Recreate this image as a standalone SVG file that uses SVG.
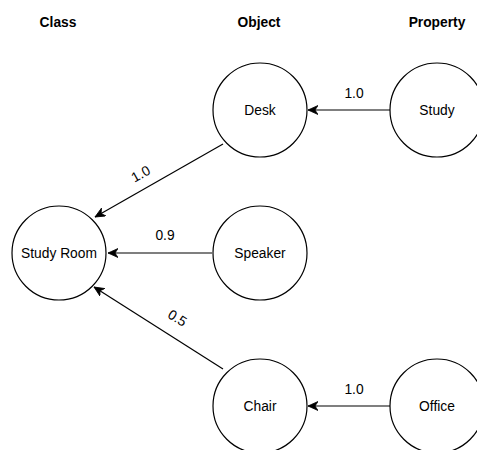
<svg xmlns="http://www.w3.org/2000/svg" width="477" height="450" viewBox="0 0 477 450">
<style>
  .node { fill: #ffffff; stroke: #000000; stroke-width: 1.2; }
  .t { font-family: "Liberation Sans", Arial, sans-serif; font-size: 13.8px; fill: #000; text-anchor: middle; }
  .h { font-family: "Liberation Sans", Arial, sans-serif; font-size: 13.8px; font-weight: bold; fill: #000; text-anchor: middle; }
  .edge { stroke: #000; stroke-width: 1.2; fill: none; marker-end: url(#arr); }
</style>
<defs>
  <marker id="arr" markerUnits="userSpaceOnUse" markerWidth="12" markerHeight="10" refX="10" refY="4.5" orient="auto">
    <path d="M0,0 L10,4.5 L0,9 L3,4.5 Z" fill="#000" stroke="#000" stroke-width="0.8"/>
  </marker>
</defs>
<rect width="477" height="450" fill="#fff"/>
<g id="headers">
  <text class="h" x="58" y="27">Class</text>
  <text class="h" x="259" y="27">Object</text>
  <text class="h" x="437" y="27">Property</text>
</g>
<g id="connectors">
  <line class="edge" x1="390" y1="110" x2="308" y2="110"/>
  <text class="t" x="354" y="98">1.0</text>
  <line class="edge" x1="223" y1="144" x2="95" y2="217"/>
  <text class="t" x="0" y="0" transform="translate(143,178) rotate(-29)">1.0</text>
  <line class="edge" x1="212" y1="253" x2="108" y2="253"/>
  <text class="t" x="165" y="240">0.9</text>
  <line class="edge" x1="223" y1="369" x2="94" y2="287"/>
  <text class="t" x="0" y="0" transform="translate(175,322) rotate(32)">0.5</text>
  <line class="edge" x1="390" y1="406" x2="308" y2="406"/>
  <text class="t" x="354" y="394">1.0</text>
</g>
<g id="study-room">
  <circle class="node" cx="59" cy="253" r="47"/>
  <text class="t" x="59" y="258">Study Room</text>
</g>
<g id="desk">
  <circle class="node" cx="260" cy="110" r="47"/>
  <text class="t" x="260" y="115">Desk</text>
</g>
<g id="speaker">
  <circle class="node" cx="260" cy="253" r="47"/>
  <text class="t" x="260" y="258">Speaker</text>
</g>
<g id="chair">
  <circle class="node" cx="260" cy="406" r="47"/>
  <text class="t" x="260" y="411">Chair</text>
</g>
<g id="study">
  <circle class="node" cx="437" cy="110" r="47"/>
  <text class="t" x="437" y="115">Study</text>
</g>
<g id="office">
  <circle class="node" cx="437" cy="406" r="47"/>
  <text class="t" x="437" y="411">Office</text>
</g>
</svg>
